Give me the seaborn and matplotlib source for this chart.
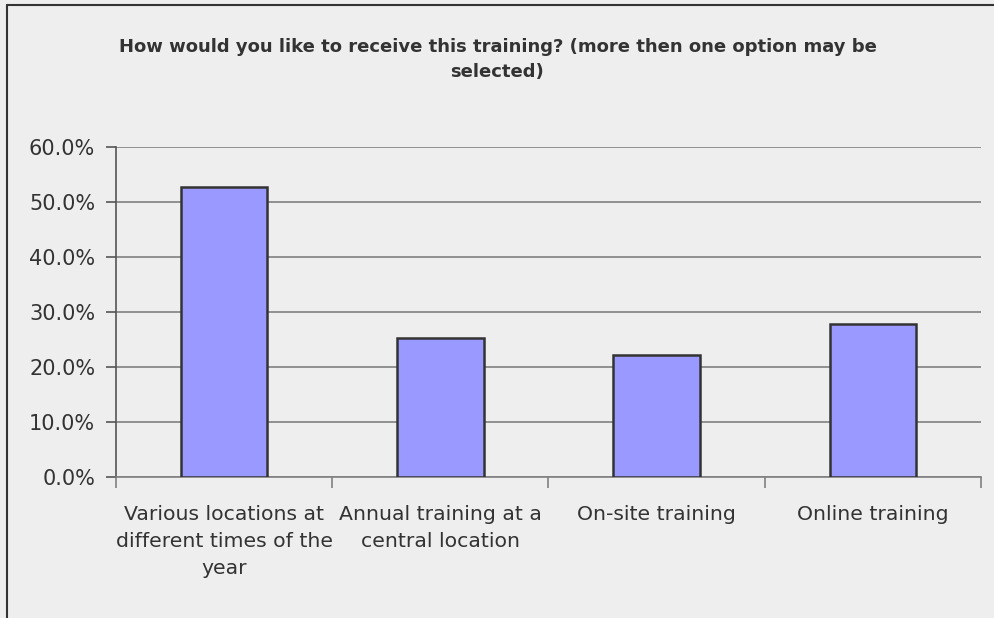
import matplotlib
matplotlib.use("Agg")
import matplotlib.pyplot as plt
import seaborn as sns
import pandas as pd
from matplotlib.lines import Line2D
from matplotlib.ticker import FuncFormatter, MultipleLocator

categories = [
    "Various locations at\ndifferent times of the\nyear",
    "Annual training at a\ncentral location",
    "On-site training",
    "Online training",
]
values = [52.7, 25.2, 22.2, 27.9]
title = "How would you like to receive this training? (more then one option may be\nselected)"

sns.set_theme(style="white")
plt.rcParams["font.family"] = ["DejaVu Sans"]

bg = "#eeeeee"
fig = plt.figure(figsize=(9.95, 6.18), dpi=100, facecolor=bg)
ax = fig.add_axes([116/995, 1-477/618, (981-116)/995, (477-147)/618])
ax.set_facecolor(bg)

df = pd.DataFrame({"cat": categories, "val": values})
sns.barplot(data=df, x="cat", y="val", ax=ax, color="#9999ff", width=0.40,
            edgecolor="#333333", linewidth=1.8, saturation=1, zorder=3)

ax.set_ylim(0, 60)
ax.set_xlim(-0.5, 3.5)
ax.yaxis.set_major_locator(MultipleLocator(10))
ax.yaxis.set_major_formatter(FuncFormatter(lambda v, p: f"{v:.1f}%"))
ax.grid(axis="y", color="#808080", linewidth=1.2, zorder=0)
ax.set_axisbelow(True)
ax.set_xlabel("")
ax.set_ylabel("")

for s in ["top", "right"]:
    ax.spines[s].set_visible(False)
ax.spines["left"].set_color("#555555")
ax.spines["left"].set_linewidth(1.2)
ax.spines["bottom"].set_color("#808080")
ax.spines["bottom"].set_linewidth(1.2)

ax.tick_params(axis="y", which="major", left=True, length=7, width=1.2, color="#555555",
               labelsize=15, labelcolor="#333333", pad=8)
ax.set_xticks([-0.5, 0.5, 1.5, 2.5, 3.5], minor=True)
ax.tick_params(axis="x", which="major", bottom=False, labelsize=14.7, labelcolor="#333333", pad=14)
ax.tick_params(axis="x", which="minor", bottom=True, length=8, width=1.2, color="#808080")
for lab in ax.get_xticklabels():
    lab.set_linespacing(1.55)

fig.text(0.5, 1-38/618, title, ha="center", va="top", fontsize=13.0, fontweight="bold",
         color="#333333", linespacing=1.5)

# outer frame lines (left and top)
fig.add_artist(Line2D([7.5/995, 7.5/995], [0, 1-5/618], transform=fig.transFigure,
                      color="#333333", linewidth=1.5))
fig.add_artist(Line2D([7.5/995, 1], [1-5/618, 1-5/618], transform=fig.transFigure,
                      color="#333333", linewidth=1.5))

fig.savefig("out.png", dpi=100, facecolor=bg)
